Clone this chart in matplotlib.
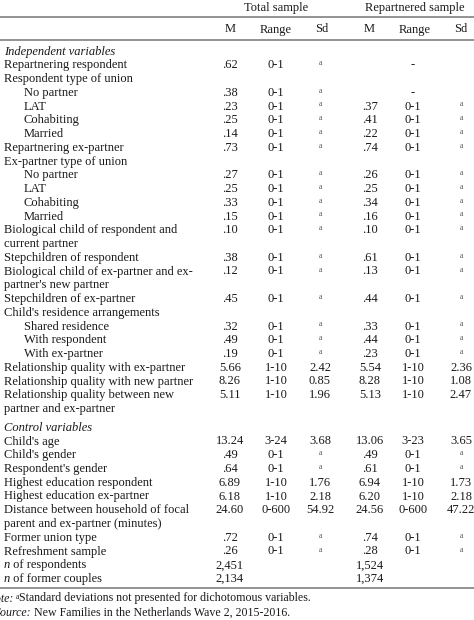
import matplotlib
matplotlib.use("Agg")
import matplotlib.pyplot as plt

FONT = 'Liberation Serif'

labels = ["Independent variables", "Repartnering respondent", "Respondent type of union",
          "No partner", "LAT", "Cohabiting", "Married", "Repartnering ex-partner",
          "Ex-partner type of union", "No partner", "LAT", "Cohabiting", "Married",
          "Biological child of respondent and\ncurrent partner", "Stepchildren of respondent",
          "Biological child of ex-partner and ex-\npartner's new partner", "Stepchildren of ex-partner",
          "Child's residence arrangements", "Shared residence", "With respondent", "With ex-partner",
          "Relationship quality with ex-partner", "Relationship quality with new partner",
          "Relationship quality between new\npartner and ex-partner",
          "Control variables", "Child's age", "Child's gender", "Respondent's gender",
          "Highest education respondent", "Highest education ex-partner",
          "Distance between household of focal\nparent and ex-partner (minutes)",
          "Former union type", "Refreshment sample", "n| of respondents", "n| of former couples"]
indent = [0,0,0,1,1,1,1,0,0,1,1,1,1,0,0,0,0,0,1,1,1,0,0,0,0,0,0,0,0,0,0,0,0,0,0]
italic = [1]+[0]*23+[1]+[0]*10
M1 = ["",".62","",".38",".23",".25",".14",".73","",".27",".25",".33",".15",".10",".38",".12",".45","",
      ".32",".49",".19","5.66","8.26","5.11","","13.24",".49",".64","6.89","6.18","24.60",".72",".26","2,451","2,134"]
R1 = ["","0-1","","0-1","0-1","0-1","0-1","0-1","","0-1","0-1","0-1","0-1","0-1","0-1","0-1","0-1","",
      "0-1","0-1","0-1","1-10","1-10","1-10","","3-24","0-1","0-1","1-10","1-10","0-600","0-1","0-1","",""]
S1 = ["","a","","a","a","a","a","a","","a","a","a","a","a","a","a","a","",
      "a","a","a","2.42","0.85","1.96","","3.68","a","a","1.76","2.18","54.92","a","a","",""]
M2 = ["","","","",".37",".41",".22",".74","",".26",".25",".34",".16",".10",".61",".13",".44","",
      ".33",".44",".23","5.54","8.28","5.13","","13.06",".49",".61","6.94","6.20","24.56",".74",".28","1,524","1,374"]
R2 = ["","-","","-","0-1","0-1","0-1","0-1","","0-1","0-1","0-1","0-1","0-1","0-1","0-1","0-1","",
      "0-1","0-1","0-1","1-10","1-10","1-10","","3-23","0-1","0-1","1-10","1-10","0-600","0-1","0-1","",""]
S2 = ["","","","","a","a","a","a","","a","a","a","a","a","a","a","a","",
      "a","a","a","2.36","1.08","2.47","","3.65","a","a","1.73","2.18","47.22","a","a","",""]

fig = plt.figure(figsize=(4.74, 6.20), dpi=100)
ax = fig.add_axes([0, 0, 1, 1])
ax.set_xlim(0, 474); ax.set_ylim(620, 0); ax.axis('off')
fs = 9
col = '#1a1a1a'
B = 3.5  # baseline offset below row centre

def t(x, y, s, ha='left', style='normal', size=fs, c=col):
    ax.text(x, y + B, s, ha=ha, va='baseline', fontsize=size, family=FONT, color=c, style=style)

t(276, 8, "Total sample", 'center')
t(415, 8, "Repartnered sample", 'center')
for x, h in zip([230, 276, 322, 369, 415, 461], ["M", "Range", "Sd"]*2):
    t(x, 29, h, 'center')
for yy in [17, 40, 588]:
    ax.plot([0, 474], [yy, yy], color='#8a8a8a', lw=1.3)

y = 51
xs = [230, 276, 320, 370, 413, 461]
for i, lab in enumerate(labels):
    if i == 24:
        y += 5
    x0 = 4 + 20 * indent[i]
    lines = lab.split("\n")
    for k, line in enumerate(lines):
        if "|" in line:
            a, b = line.split("|")
            t(x0, y, a, style='italic')
            t(x0 + 6, y, b)
        else:
            t(x0, y + 13.75 * k, line, style='italic' if italic[i] else 'normal')
    for x, v in zip(xs, [M1[i], R1[i], S1[i], M2[i], R2[i], S2[i]]):
        if v == "a":
            t(x, y - 3, "a", 'center', size=5.5, c='#555')
        elif v:
            t(x, y, v, 'center')
    y += 13.75 * len(lines)

nfs = 8.6
t(13, 598, "Note:", 'right', style='italic', size=nfs)
t(15.5, 595.5, "a", size=5.5)
t(19, 598, "Standard deviations not presented for dichotomous variables.", size=nfs)
t(31, 612, "Source:", 'right', style='italic', size=nfs)
t(34, 612, "New Families in the Netherlands Wave 2, 2015-2016.", size=nfs)

fig.savefig("out.png", dpi=100, facecolor='white')
